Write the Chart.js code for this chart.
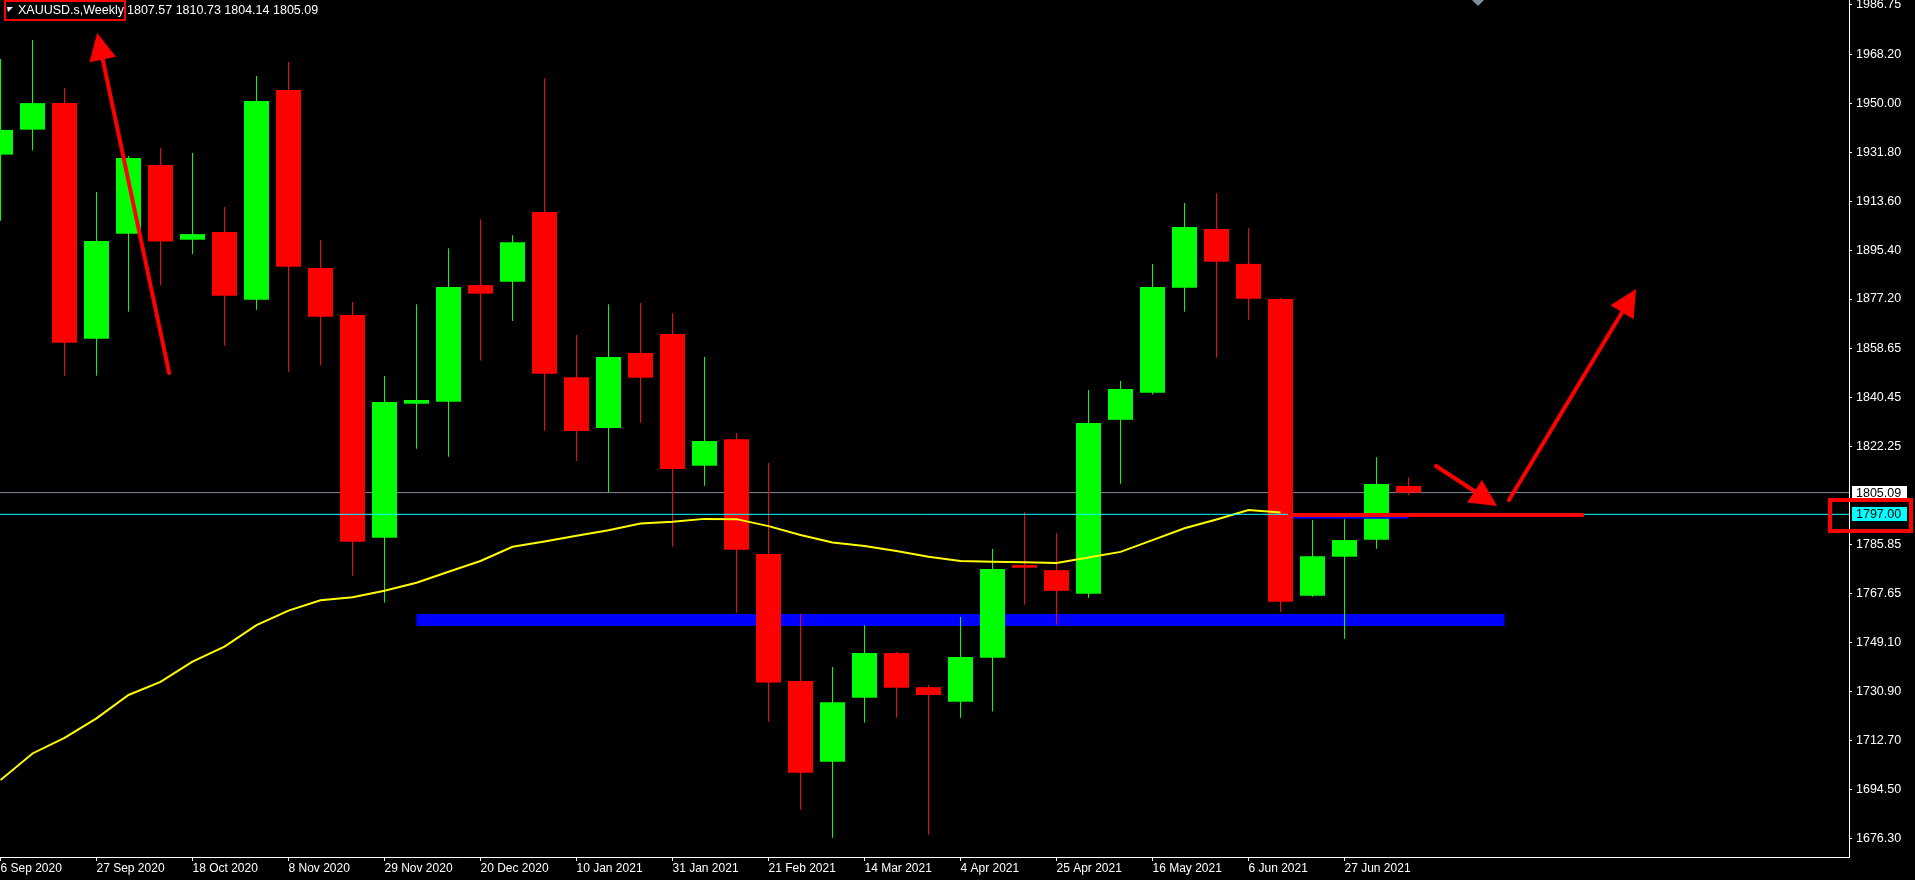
<!DOCTYPE html>
<html>
<head>
<meta charset="utf-8">
<script src="https://cdn.jsdelivr.net/npm/chart.js@4.4.1/dist/chart.umd.min.js"></script>
<style>
  html, body { margin: 0; padding: 0; background: #000; overflow: hidden; }
  canvas { display: block; }
</style>
</head>
<body>
<canvas id="chart" width="1915" height="880"></canvas>
<script>
// XAUUSD weekly candles, one per week starting 6 Sep 2020
const symbol = "XAUUSD.s,Weekly";
const open  = [1931.0, 1940.3, 1950.2, 1862.4, 1901.5, 1927.1, 1899.3, 1902.2, 1876.9, 1955.1, 1888.8, 1871.3, 1788.3, 1838.2, 1838.9, 1882.4, 1883.6, 1909.6, 1848.1, 1829.2, 1857.1, 1864.2, 1815.1, 1825.0, 1782.2, 1734.9, 1704.8, 1728.7, 1745.3, 1732.6, 1727.2, 1743.6, 1778.1, 1776.2, 1767.4, 1832.2, 1842.3, 1881.4, 1903.3, 1890.3, 1877.2, 1766.7, 1781.2, 1787.5, 1807.57];
const high  = [1966.6, 1973.7, 1955.8, 1917.1, 1930.5, 1933.5, 1931.6, 1911.5, 1960.3, 1965.5, 1899.2, 1876.1, 1848.5, 1875.3, 1896.1, 1906.9, 1901.0, 1959.5, 1863.8, 1875.3, 1875.7, 1872.0, 1855.6, 1827.3, 1816.1, 1759.9, 1740.1, 1755.7, 1745.7, 1733.4, 1758.7, 1784.1, 1797.8, 1790.0, 1843.3, 1846.7, 1890.3, 1913.0, 1916.7, 1903.6, 1877.6, 1794.9, 1795.2, 1818.3, 1810.73];
const low   = [1906.4, 1932.5, 1848.6, 1848.6, 1872.5, 1882.2, 1894.0, 1859.8, 1873.2, 1850.1, 1852.4, 1774.1, 1764.1, 1821.4, 1818.4, 1854.2, 1869.0, 1828.0, 1816.9, 1805.0, 1831.0, 1784.9, 1807.6, 1760.3, 1719.7, 1686.9, 1676.5, 1719.4, 1721.2, 1677.6, 1721.2, 1723.5, 1763.3, 1755.9, 1765.9, 1808.4, 1841.6, 1872.5, 1855.3, 1869.5, 1760.7, 1766.3, 1750.6, 1784.2, 1804.14];
const close = [1940.2, 1950.2, 1860.9, 1898.8, 1929.7, 1898.6, 1901.4, 1878.4, 1951.0, 1889.2, 1870.6, 1786.8, 1838.8, 1839.6, 1881.7, 1879.2, 1898.4, 1849.4, 1828.0, 1855.6, 1847.9, 1813.9, 1824.3, 1783.8, 1734.3, 1700.7, 1727.0, 1745.3, 1732.4, 1729.7, 1743.8, 1776.6, 1777.1, 1768.5, 1831.0, 1843.7, 1881.7, 1904.0, 1891.1, 1877.3, 1764.4, 1781.4, 1787.4, 1808.3, 1805.09];

// moving average (yellow)
const ma = [1698.0, 1707.9, 1713.7, 1721.0, 1729.7, 1734.6, 1742.1, 1747.7, 1755.7, 1761.1, 1765.0, 1766.1, 1768.5, 1771.5, 1775.6, 1779.6, 1784.9, 1786.9, 1789.0, 1791.1, 1793.6, 1794.2, 1795.3, 1795.2, 1792.6, 1789.3, 1786.5, 1785.2, 1783.3, 1781.2, 1779.6, 1779.3, 1779.1, 1778.9, 1780.9, 1783.0, 1787.4, 1791.8, 1795.1, 1798.6, 1797.7];

// time axis labels (bar index -> date)
const tickBars   = [0, 3, 6, 9, 12, 15, 18, 21, 24, 27, 30, 33, 36, 39, 42];
const tickLabels = ["6 Sep 2020", "27 Sep 2020", "18 Oct 2020", "8 Nov 2020", "29 Nov 2020", "20 Dec 2020", "10 Jan 2021", "31 Jan 2021", "21 Feb 2021", "14 Mar 2021", "4 Apr 2021", "25 Apr 2021", "16 May 2021", "6 Jun 2021", "27 Jun 2021"];

// price axis labels
const priceTicks = [1986.75, 1968.20, 1950.00, 1931.80, 1913.60, 1895.40, 1877.20, 1858.65, 1840.45, 1822.25, 1785.85, 1767.65, 1749.10, 1730.90, 1712.70, 1694.50, 1676.30];

// drawn objects
const levelPrice = 1797.00;
const supportZone = [13, 47, 1757.6];      // from bar, to bar, price
const redLevel = [40.23, 49.48, 1796.7];
const blueLevel = [40.39, 44, 1795.7];
const arrows = [
  [5.27, 1849.6, 3.02, 1976.3],
  [44.86, 1815.0, 46.77, 1800.1],
  [47.14, 1802.3, 51.11, 1880.9]
];

const X_MIN = -0.015625, X_MAX = 57.765625;
const Y_MIN = 1669.33, Y_MAX = 1988.61;
const FONT = '"Liberation Sans", Arial, sans-serif';

const barColors = open.map((o, i) => close[i] >= o ? "#00ff00" : "#ff0000");
const lastClose = close[close.length - 1];

function hline(from, to, price) {
  return [{ x: from, y: price }, { x: to, y: price }];
}

const overlay = {
  id: "overlay",
  afterDatasetsDraw(chart) {
    const { ctx, scales: { x, y } } = chart;
    ctx.save();
    ctx.strokeStyle = "#ff0000";
    ctx.fillStyle = "#ff0000";
    arrows.forEach(a => {
      const ax = x.getPixelForValue(a[0]), ay = y.getPixelForValue(a[1]);
      const bx = x.getPixelForValue(a[2]), by = y.getPixelForValue(a[3]);
      const ang = Math.atan2(by - ay, bx - ax);
      const hl = 27, hw = 13.5;
      const cx = bx - hl * Math.cos(ang), cy = by - hl * Math.sin(ang);
      ctx.lineWidth = 4;
      ctx.lineCap = "round";
      ctx.beginPath();
      ctx.moveTo(ax, ay);
      ctx.lineTo(cx, cy);
      ctx.stroke();
      ctx.beginPath();
      ctx.moveTo(bx, by);
      ctx.lineTo(cx + hw * Math.sin(ang), cy - hw * Math.cos(ang));
      ctx.lineTo(cx - hw * Math.sin(ang), cy + hw * Math.cos(ang));
      ctx.closePath();
      ctx.fill();
    });
    ctx.restore();
  },
  afterDraw(chart) {
    const { ctx, scales: { y } } = chart;
    ctx.save();
    ctx.font = "12.5px " + FONT;
    ctx.textBaseline = "alphabetic";

    // title
    ctx.fillStyle = "#ffffff";
    ctx.beginPath();
    ctx.moveTo(7, 7); ctx.lineTo(13, 7); ctx.lineTo(8, 12); ctx.closePath();
    ctx.fill();
    ctx.fillText(symbol, 18, 14);
    const last = open.length - 1;
    ctx.fillText([open[last], high[last], low[last], close[last]].map(v => v.toFixed(2)).join(" "), 127, 14);
    ctx.strokeStyle = "#ff0000";
    ctx.lineWidth = 2;
    ctx.strokeRect(5, 1, 120, 19);

    // chart shift marker
    ctx.fillStyle = "#8090a0";
    ctx.beginPath();
    ctx.moveTo(1472, 0); ctx.lineTo(1484, 0); ctx.lineTo(1478, 6); ctx.closePath();
    ctx.fill();

    // price tags on the axis
    ctx.textBaseline = "middle";
    const tag = (price, bg) => {
      const py = Math.round(y.getPixelForValue(price));
      ctx.fillStyle = bg;
      ctx.fillRect(1852, py - 7, 55, 14);
      ctx.fillStyle = "#000000";
      ctx.fillText(price.toFixed(2), 1856, py + 1);
      return py;
    };
    tag(lastClose, "#ffffff");
    const ly = tag(levelPrice, "#00ffff");
    ctx.strokeStyle = "#ff0000";
    ctx.lineWidth = 4;
    ctx.strokeRect(1830, ly - 14, 81, 31);
    ctx.restore();
  }
};

new Chart(document.getElementById("chart").getContext("2d"), {
  type: "bar",
  data: {
    datasets: [
      { type: "line", label: "red level", data: hline(redLevel[0], redLevel[1], redLevel[2]),
        borderColor: "#ff0000", borderWidth: 4, pointRadius: 0, borderCapStyle: "butt", order: 1 },
      { type: "line", label: "blue level", data: hline(blueLevel[0], blueLevel[1], blueLevel[2]),
        borderColor: "#0000ff", borderWidth: 2, pointRadius: 0, borderCapStyle: "butt", order: 2 },
      { type: "line", label: "level", data: hline(X_MIN, X_MAX, levelPrice),
        borderColor: "#00ffff", borderWidth: 1, pointRadius: 0, order: 3 },
      { type: "line", label: "MA", data: ma.map((v, i) => ({ x: i, y: v })),
        borderColor: "#ffff00", borderWidth: 2, pointRadius: 0, tension: 0, order: 4 },
      { type: "bar", label: "body", data: open.map((o, i) => ({ x: i, y: [o, close[i]] })),
        backgroundColor: barColors, barThickness: 25, grouped: false, inflateAmount: 0, order: 5 },
      { type: "bar", label: "wick", data: low.map((l, i) => ({ x: i, y: [l, high[i]] })),
        backgroundColor: barColors, barThickness: 1, grouped: false, inflateAmount: 0, order: 6 },
      { type: "line", label: "bid", data: hline(X_MIN, X_MAX, lastClose),
        borderColor: "#7f8b97", borderWidth: 1, pointRadius: 0, order: 7 },
      { type: "line", label: "support", data: hline(supportZone[0], supportZone[1], supportZone[2]),
        borderColor: "#0000ff", borderWidth: 12, pointRadius: 0, borderCapStyle: "butt", order: 8 }
    ]
  },
  options: {
    responsive: false,
    animation: false,
    devicePixelRatio: 1,
    layout: { padding: 0 },
    plugins: { legend: { display: false }, tooltip: { enabled: false } },
    scales: {
      x: {
        type: "linear",
        min: X_MIN,
        max: X_MAX,
        offset: false,
        afterBuildTicks: s => { s.ticks = tickBars.map(v => ({ value: v })); },
        afterFit: s => { s.height = 23; s.paddingLeft = 0; s.paddingRight = 0; },
        ticks: {
          autoSkip: false, maxRotation: 0, minRotation: 0, align: "start", padding: 0,
          color: "#ffffff", font: { family: FONT, size: 12 },
          callback: v => tickLabels[tickBars.indexOf(v)]
        },
        grid: { offset: false, drawOnChartArea: false, drawTicks: true, tickLength: 4, color: "#ffffff" },
        border: { display: true, color: "#ffffff", width: 1 }
      },
      y: {
        type: "linear",
        position: "right",
        min: Y_MIN,
        max: Y_MAX,
        beginAtZero: false,
        afterBuildTicks: s => { s.ticks = priceTicks.map(v => ({ value: v })); },
        afterFit: s => { s.width = 66; s.paddingTop = 0; s.paddingBottom = 0; },
        ticks: {
          padding: 4, color: "#ffffff", font: { family: FONT, size: 12.5 },
          callback: v => v.toFixed(2)
        },
        grid: { drawOnChartArea: false, drawTicks: true, tickLength: 3, color: "#ffffff" },
        border: { display: true, color: "#ffffff", width: 1 }
      }
    }
  },
  plugins: [overlay]
});
</script>
</body>
</html>
